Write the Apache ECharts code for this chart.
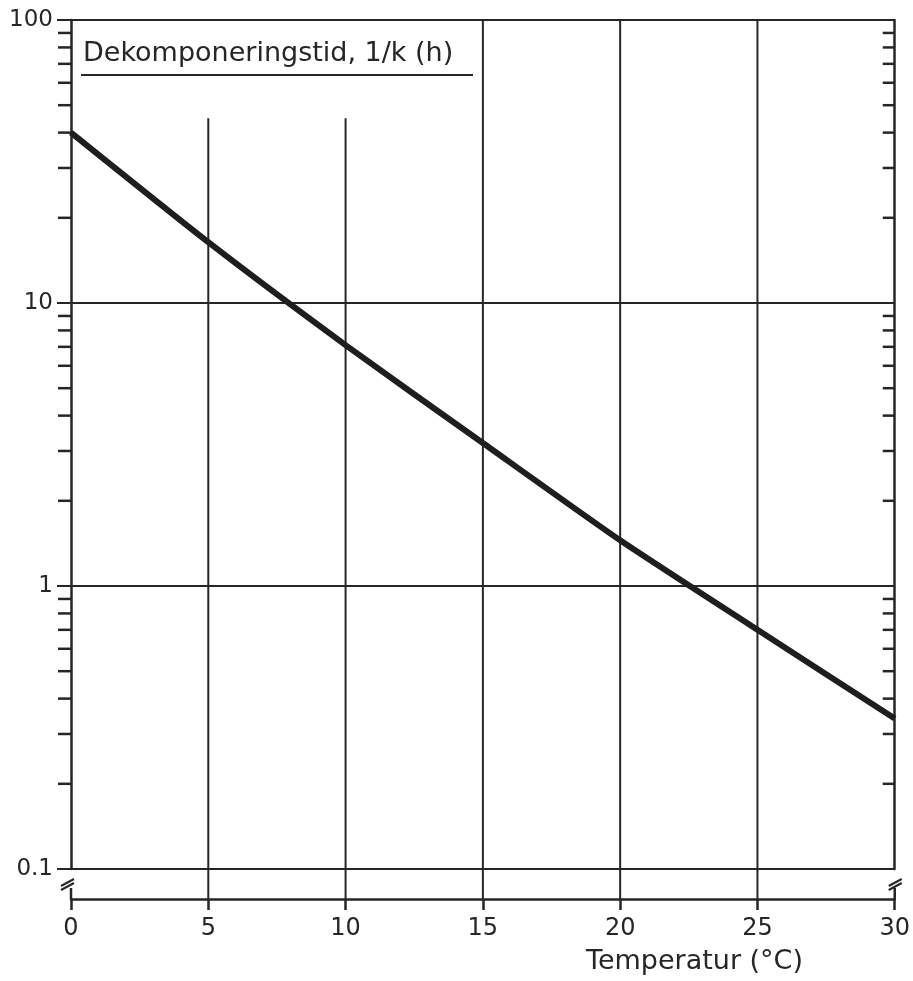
<!DOCTYPE html>
<html>
<head>
<meta charset="utf-8">
<script src="https://cdn.jsdelivr.net/npm/echarts@6/dist/echarts.min.js"></script>
<style>
html,body{margin:0;padding:0;background:#fff;}
#chart{width:913px;height:981px;}
</style>
</head>
<body>
<div id="chart"></div>
<script>
// ---- data ----
const temperature = [0, 5, 10, 15, 20, 25, 30];                 // °C
const decompTime  = [40, 16.4, 7.1, 3.2, 1.45, 0.70, 0.34];    // 1/k (h)
const xTicks = [0, 5, 10, 15, 20, 25, 30];
const yLabels = [0.1, 1, 10, 100];
const gridLineX = [5, 10, 15, 20, 25];       // vertical grid lines
const gridLineTop = [45, 45, 100, 100, 100]; // value where each vertical line starts
const minorTickValues = [0.2,0.3,0.4,0.5,0.6,0.7,0.8,0.9, 2,3,4,5,6,7,8,9, 20,30,40,50,60,70,80,90];
const titleText = 'Dekomponeringstid, 1/k (h)';
const xName = 'Temperatur (°C)';

const INK = '#262626';
const GAP = 30; // x axis offset below the 0.1 line

const chart = echarts.init(document.getElementById('chart'), null, {renderer:'canvas'});
const font = 'DejaVu Sans';

const option = {
  backgroundColor: '#fff',
  animation: false,
  grid: {left: 71, right: 15, top: 20, bottom: 112, containLabel: false},
  xAxis: {
    type: 'value', min: 0, max: 30, interval: 5,
    offset: GAP,
    axisLine: {show: true, lineStyle: {color: INK, width: 2.5}},
    axisTick: {show: true, inside: false, length: 11, lineStyle: {color: INK, width: 2.5}},
    axisLabel: {color: INK, fontSize: 24, fontFamily: font, margin: 18,
      formatter: v => xTicks.includes(v) ? String(v) : ''},
    splitLine: {show: false}
  },
  yAxis: [{
    type: 'log', logBase: 10, min: 0.1, max: 100,
    axisLine: {show: true, onZero: false, lineStyle: {color: INK, width: 2.5}},
    axisTick: {show: true, inside: false, length: 14, lineStyle: {color: INK, width: 2}},
    axisLabel: {color: INK, fontSize: 23, fontFamily: font, margin: 18,
      formatter: v => { const f = yLabels.find(l => Math.abs(l - v) < 1e-9); return f === undefined ? '' : String(f); }},
    splitLine: {show: true, lineStyle: {color: INK, width: 2}}
  }, {
    type: 'log', logBase: 10, min: 0.1, max: 100, position: 'right',
    axisLine: {show: true, onZero: false, lineStyle: {color: INK, width: 2.5}},
    axisTick: {show: false}, axisLabel: {show: false}, splitLine: {show: false}
  }],
  series: [
    {
      type: 'custom', name: 'vgrid', clip: false, silent: true,
      data: gridLineX.map((x, i) => [x, gridLineTop[i]]),
      renderItem: (params, api) => {
        const top = api.coord([api.value(0), api.value(1)]);
        const bot = api.coord([api.value(0), 0.1]);
        return {type: 'line', shape: {x1: top[0], y1: top[1], x2: top[0], y2: bot[1] + GAP},
          style: {stroke: INK, lineWidth: 2}};
      }
    },
    {
      type: 'custom', name: 'minorTicks', clip: false, silent: true,
      data: minorTickValues.map(v => [0, v]),
      renderItem: (params, api) => {
        const v = api.value(1);
        const l = api.coord([0, v]);
        const r = api.coord([30, v]);
        return {type: 'group', children: [
          {type: 'line', shape: {x1: l[0] - 13, y1: l[1], x2: l[0], y2: l[1]}, style: {stroke: INK, lineWidth: 2.5}},
          {type: 'line', shape: {x1: r[0] - 12, y1: r[1], x2: r[0], y2: r[1]}, style: {stroke: INK, lineWidth: 2.5}}
        ]};
      }
    },
    {
      type: 'custom', name: 'breaks', clip: false, silent: true,
      data: [[0, 0.1], [30, 0.1]],
      renderItem: (params, api) => {
        const p = api.coord([api.value(0), api.value(1)]);
        const left = api.value(0) === 0;
        const cx = left ? p[0] - 3 : p[0] + 1;
        const ay = p[1] + GAP;
        return {type: 'group', children: [
          {type: 'line', shape: {x1: cx - 7, y1: p[1] + 17, x2: cx + 6, y2: p[1] + 10}, style: {stroke: INK, lineWidth: 2}},
          {type: 'line', shape: {x1: cx - 7, y1: p[1] + 21, x2: cx + 6, y2: p[1] + 14}, style: {stroke: INK, lineWidth: 2}},
          {type: 'line', shape: {x1: p[0], y1: ay - 11, x2: p[0], y2: ay}, style: {stroke: INK, lineWidth: 2.5}}
        ]};
      }
    },
    {
      type: 'line', name: 'curve',
      data: temperature.map((t, i) => [t, decompTime[i]]),
      showSymbol: false, symbol: 'none', smooth: 0.2,
      lineStyle: {color: '#1e1e1e', width: 6},
      z: 5
    }
  ],
  graphic: [
    {type: 'text', left: 83, top: 40, style: {text: titleText, fill: INK, fontSize: 27, fontFamily: font}},
    {type: 'line', shape: {x1: 81, y1: 75, x2: 473, y2: 75}, style: {stroke: INK, lineWidth: 2}},
    {type: 'text', right: 110, top: 948, style: {text: xName, fill: INK, fontSize: 27, fontFamily: font}}
  ]
};
chart.setOption(option);
</script>
</body>
</html>
